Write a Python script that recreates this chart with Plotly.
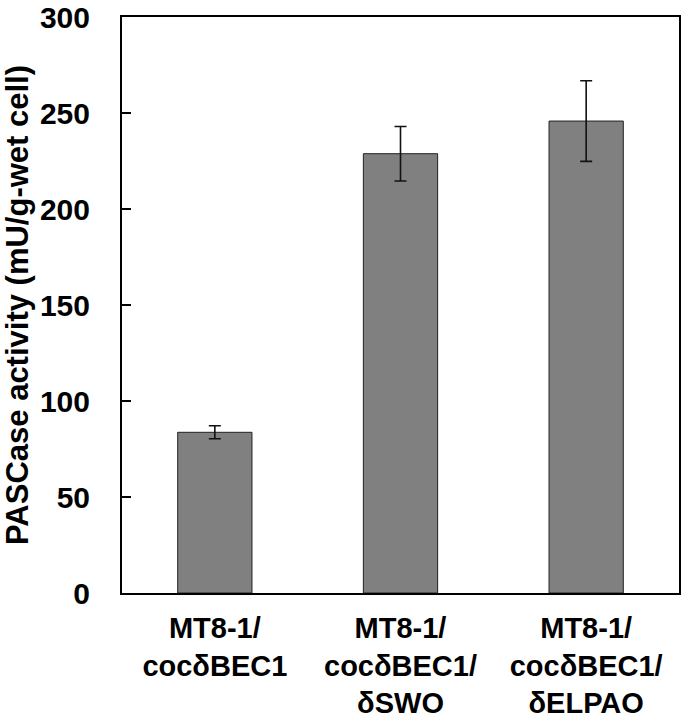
import plotly.graph_objects as go

categories = ["MT8-1/<br>cocδBEC1", "MT8-1/<br>cocδBEC1/<br>δSWO", "MT8-1/<br>cocδBEC1/<br>δELPAO"]
values = [83.7, 228.8, 245.8]
errors = [3.4, 14.2, 21.0]
yticks = [0, 50, 100, 150, 200, 250, 300]

FONT = "Arial, Liberation Sans, sans-serif"

fig = go.Figure()
fig.add_trace(go.Bar(
    x=categories, y=values,
    marker=dict(color="#808080", line=dict(color="#222222", width=1)),
    width=0.4,
    error_y=dict(type="data", array=errors, visible=True, color="#111111", thickness=1.6, width=6),
))

fig.update_layout(
    width=685, height=719,
    margin=dict(l=122, r=6, t=17, b=126),
    paper_bgcolor="white", plot_bgcolor="white",
    showlegend=False,
    font=dict(family=FONT, color="black"),
)
fig.update_xaxes(
    automargin=False,
    showline=True, linecolor="black", linewidth=2, mirror=True,
    ticks="", tickfont=dict(size=29, weight="bold", family=FONT),
    ticklabelstandoff=8,
)
fig.update_yaxes(
    automargin=False,
    range=[0, 300], tickvals=yticks, ticktext=[str(v) for v in yticks],
    showline=True, linecolor="black", linewidth=2, mirror=True,
    ticks="inside", ticklen=9, tickwidth=1.5, tickcolor="black",
    showgrid=False, zeroline=False,
    tickfont=dict(size=30, weight="bold", family=FONT),
    ticklabelstandoff=24, ticklabeloverflow="allow",
    title=dict(text="PASCase activity (mU/g-wet cell)", font=dict(size=31, weight="bold", family=FONT), standoff=16),
)

fig.write_html("out.html", config={"displayModeBar": False},
               post_script="document.body.style.margin='0';")
